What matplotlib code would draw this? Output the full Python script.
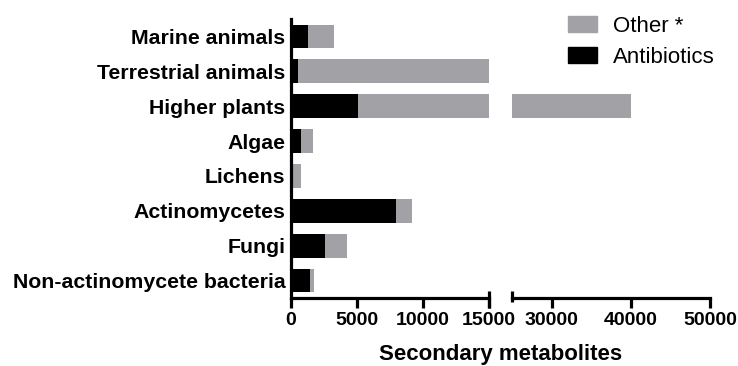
import matplotlib

matplotlib.use("Agg")
import matplotlib.pyplot as plt
from matplotlib.patches import Patch

plt.rcParams["font.family"] = ["Liberation Sans", "DejaVu Sans"]

# Secondary metabolites per source organism group (top to bottom)
sources = [
    "Marine animals",
    "Terrestrial animals",
    "Higher plants",
    "Algae",
    "Lichens",
    "Actinomycetes",
    "Fungi",
    "Non-actinomycete bacteria",
]
antibiotics = [1250, 550, 5050, 750, 0, 7950, 2600, 1450]
totals = [3250, 15000, 40000, 1650, 750, 9200, 4250, 1750]
other = [t - a for t, a in zip(totals, antibiotics)]

left_ticks = [0, 5000, 10000, 15000]
right_ticks = [30000, 40000, 50000]
left_range = (0, 15000)
right_range = (25000, 50000)

GREY = "#a2a2a6"
LW = 2.3

fig = plt.figure(figsize=(7.38, 3.66), dpi=100)
ax_l = fig.add_axes([291 / 738, 68 / 366, 198 / 738, 279 / 366])
ax_r = fig.add_axes([512 / 738, 68 / 366, 198 / 738, 279 / 366])

ypos = list(range(len(sources)))
for ax in (ax_l, ax_r):
    ax.barh(ypos, antibiotics, height=0.68, color="black", linewidth=0)
    ax.barh(ypos, other, left=antibiotics, height=0.68, color=GREY, linewidth=0)
    ax.set_ylim(len(sources) - 0.5, -0.5)
    for side in ("top", "right"):
        ax.spines[side].set_visible(False)
    ax.spines["bottom"].set_linewidth(LW)
    ax.spines["left"].set_linewidth(LW)
    ax.tick_params(axis="x", direction="out", length=7, width=LW, pad=3)

ax_l.set_xlim(*left_range)
ax_l.set_xticks(left_ticks)
ax_l.set_xticklabels([str(t) for t in left_ticks], fontweight="bold", fontsize=14)
ax_l.set_yticks(ypos)
ax_l.set_yticklabels(sources, fontweight="bold", fontsize=15.3)
ax_l.tick_params(axis="y", length=0, pad=4)

ax_r.set_xlim(*right_range)
ax_r.set_xticks(right_ticks)
ax_r.set_xticklabels([str(t) for t in right_ticks], fontweight="bold", fontsize=14)
ax_r.spines["left"].set_visible(False)
ax_r.set_yticks([])

# end caps marking the axis break
ax_l.plot([1, 1], [-0.035, 0.025], transform=ax_l.transAxes, color="black",
          lw=LW, clip_on=False, solid_capstyle="butt")
ax_r.plot([0, 0], [-0.015, 0.025], transform=ax_r.transAxes, color="black",
          lw=LW, clip_on=False, solid_capstyle="butt")

fig.text(500.5 / 738, 6 / 366, "Secondary metabolites", ha="center",
         va="baseline", fontsize=16, fontweight="bold")

handles = [Patch(color=GREY, label="Other *"), Patch(color="black", label="Antibiotics")]
fig.legend(handles=handles, loc="upper left", bbox_to_anchor=(559 / 738, 1 - 7 / 366),
           frameon=False, fontsize=16, handlelength=1.3, handleheight=0.72,
           handletextpad=0.75, labelspacing=0.45, borderaxespad=0)

fig.savefig("out.png", dpi=100)
